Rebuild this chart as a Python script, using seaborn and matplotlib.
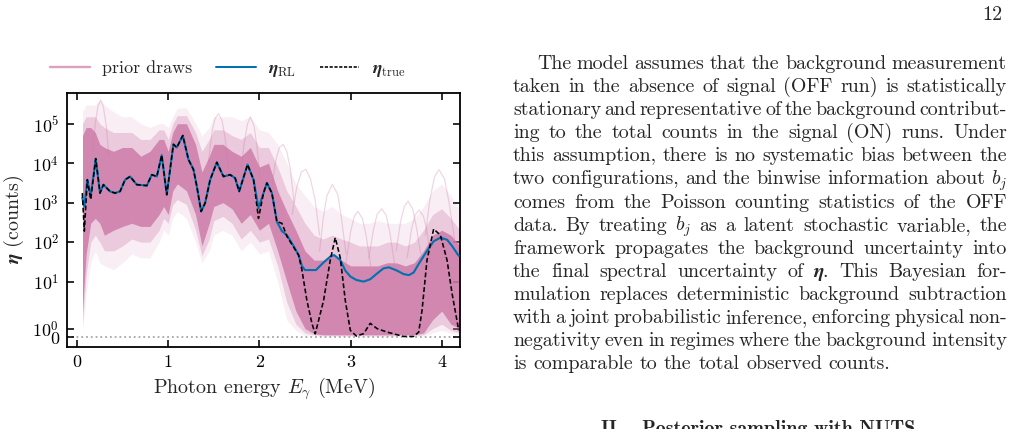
import pandas as pd
import matplotlib
matplotlib.use('Agg')
import matplotlib.pyplot as plt
from matplotlib.lines import Line2D
from matplotlib.ticker import NullLocator
import seaborn as sns

# ---- data (energy in MeV, counts) ----
band_E = [0.06, 0.10, 0.15, 0.20, 0.25, 0.30, 0.40, 0.50, 0.60, 0.70, 0.80, 0.90,
          0.95, 1.00, 1.05, 1.10, 1.20, 1.30, 1.37, 1.45, 1.50, 1.60, 1.70, 1.80, 1.90,
          2.00, 2.10, 2.20, 2.30, 2.40, 2.50, 2.60, 2.70, 2.80, 2.90,
          3.00, 3.10, 3.20, 3.30, 3.40, 3.50, 3.60, 3.70, 3.80, 3.90, 4.00, 4.10, 4.20]
# dense core of the prior draws
core_lo = [3, 50, 300, 400, 300, 150, 200, 250, 300, 250, 250, 500,
           800, 500, 2000, 3000, 2000, 500, 80, 300, 800, 1000, 700, 300, 500,
           200, 300, 60, 10, 3, 1, 0.4, 0.3, 0.3, 0.3,
           0.3, 0.3, 0.3, 0.3, 0.3, 0.3, 0.3, 0.3, 0.5, 2, 3, 1.5, 1]
core_hi = [5e4, 8e4, 8e4, 6e4, 3e4, 2.5e4, 2e4, 2.5e4, 2.5e4, 1.5e4, 2e4, 4e4,
           4e4, 2e4, 6e4, 1e5, 1e5, 3e4, 6e3, 1.5e4, 3e4, 3e4, 2e4, 1.5e4, 2.5e4,
           8e3, 1e4, 2e3, 600, 200, 60, 35, 35, 50, 35,
           25, 25, 25, 25, 30, 30, 25, 30, 60, 150, 200, 150, 80]
# medium density
mid_lo = [1.5, 15, 100, 150, 100, 60, 60, 80, 120, 100, 100, 200,
          400, 300, 900, 1200, 900, 200, 45, 120, 350, 450, 300, 120, 200,
          100, 120, 25, 4, 1.5, 0.5, 0.3, 0.2, 0.2, 0.2,
          0.2, 0.2, 0.2, 0.2, 0.2, 0.2, 0.2, 0.2, 0.3, 1, 1.5, 0.8, 0.5]
mid_hi = [1e5, 1.5e5, 1.5e5, 1.5e5, 1e5, 8e4, 6e4, 6e4, 6e4, 4e4, 4e4, 7e4,
          7e4, 4e4, 1e5, 1.6e5, 1.6e5, 6e4, 2e4, 4e4, 7e4, 7e4, 5e4, 4e4, 6e4,
          2.5e4, 2.5e4, 8e3, 2e3, 800, 300, 150, 120, 150, 120,
          100, 80, 80, 80, 100, 100, 80, 100, 200, 500, 700, 400, 200]
# faint outer haze
faint_lo = [0.8, 5, 30, 60, 30, 25, 20, 30, 50, 40, 40, 100,
            200, 150, 400, 600, 400, 100, 30, 60, 150, 200, 150, 60, 100,
            50, 60, 10, 2, 0.8, 0.2, 0.15, 0.1, 0.1, 0.1,
            0.1, 0.1, 0.1, 0.1, 0.1, 0.1, 0.1, 0.1, 0.15, 0.5, 0.8, 0.5, 0.3]
faint_hi = [2e5, 3e5, 3e5, 3e5, 4e5, 3e5, 2e5, 1.5e5, 1.5e5, 1e5, 8e4, 1e5,
            1e5, 8e4, 1.5e5, 2.5e5, 2.5e5, 1e5, 5e4, 8e4, 1.5e5, 1.5e5, 1.5e5, 1.2e5, 1.5e5,
            7e4, 6e4, 3e4, 1e4, 3e3, 1.5e3, 800, 600, 800, 500,
            400, 300, 300, 350, 300, 300, 300, 400, 800, 2e3, 3e3, 1.5e3, 600]

# a few individual outlying prior draws
draw_id = ([1] * 7 + [2] * 7 + [3] * 7 + [4] * 7 + [5] * 7 + [6] * 7
           + [7] * 7 + [8] * 7 + [9] * 7 + [10] * 7 + [11] * 7)
draw_E = [2.66, 2.70, 2.74, 2.80, 2.86, 2.90, 2.95,
          3.82, 3.87, 3.92, 3.97, 4.03, 4.08, 4.14,
          3.20, 3.25, 3.29, 3.34, 3.39, 3.43, 3.48,
          2.36, 2.41, 2.46, 2.51, 2.56, 2.61, 2.66,
          3.50, 3.55, 3.59, 3.63, 3.68, 3.72, 3.77,
          2.95, 3.00, 3.04, 3.08, 3.13, 3.17, 3.22,
          0.17, 0.20, 0.23, 0.26, 0.29, 0.32, 0.35,
          1.44, 1.48, 1.51, 1.55, 1.59, 1.62, 1.66,
          2.14, 2.18, 2.22, 2.26, 2.30, 2.34, 2.38,
          3.62, 3.67, 3.71, 3.75, 3.80, 3.84, 3.88,
          1.80, 1.84, 1.87, 1.90, 1.94, 1.97, 2.01]
draw_val = [60, 400, 1500, 2900, 1600, 400, 50,
            150, 1200, 4500, 6900, 4000, 1000, 120,
            40, 200, 500, 700, 480, 180, 30,
            500, 2500, 6000, 7000, 4000, 1200, 150,
            60, 350, 800, 1100, 700, 250, 50,
            30, 180, 450, 600, 400, 150, 25,
            2e4, 1e5, 2.8e5, 4e5, 2.6e5, 9e4, 1.5e4,
            1e4, 6e4, 1.3e5, 1.8e5, 1.2e5, 5e4, 8e3,
            3e3, 1.2e4, 2.5e4, 3e4, 2e4, 7e3, 1e3,
            40, 220, 500, 650, 450, 180, 30,
            8e3, 4e4, 1e5, 1.5e5, 9e4, 3e4, 4e3]

true_E = [0.058, 0.080, 0.113, 0.150, 0.205, 0.252, 0.289, 0.362, 0.417, 0.472,
          0.527, 0.582, 0.655, 0.765, 0.820, 0.875, 0.929, 0.984, 1.057, 1.094,
          1.160, 1.222, 1.277, 1.314, 1.361, 1.405, 1.460, 1.533, 1.606, 1.679,
          1.734, 1.778, 1.870, 1.936, 1.990, 2.045, 2.082, 2.137, 2.192, 2.247,
          2.302, 2.375, 2.430, 2.466, 2.521, 2.576, 2.612, 2.704, 2.777, 2.832,
          2.887, 2.942, 2.997, 3.063, 3.143, 3.216, 3.290, 3.400, 3.509, 3.582,
          3.692, 3.747, 3.784, 3.838, 3.911, 3.985, 4.058, 4.113, 4.186]
true_val = [1750, 190, 3800, 1200, 13000, 1750, 2860, 1930, 1750, 1930,
            3800, 4600, 2860, 2700, 5100, 4600, 16000, 1590, 30000, 25000,
            50000, 12400, 6900, 2580, 600, 980, 3800, 10500, 4600, 5100,
            4200, 1930, 9200, 3800, 400, 1750, 3150, 1750, 330, 300,
            140, 75, 47, 20, 4.2, 1.6, 0.4, 4.2, 35, 130,
            40, 4.2, 0.8, 0.15, 0.42, 1.6, 1.0, 0.6, 0.3, 0.1,
            0.1, 0.6, 3.1, 35, 215, 150, 35, 5, 0.8]

rl_E = [0.058, 0.080, 0.113, 0.150, 0.205, 0.252, 0.289, 0.362, 0.417, 0.472,
        0.527, 0.582, 0.655, 0.765, 0.820, 0.875, 0.929, 0.984, 1.057, 1.094,
        1.160, 1.222, 1.277, 1.314, 1.361, 1.405, 1.460, 1.533, 1.606, 1.679,
        1.734, 1.778, 1.870, 1.936, 1.990, 2.045, 2.082, 2.137, 2.192, 2.247,
        2.302, 2.375, 2.430, 2.466, 2.500, 2.550, 2.620, 2.700, 2.777, 2.820,
        2.887, 2.942, 2.997, 3.063, 3.143, 3.216, 3.290, 3.360, 3.420, 3.509,
        3.582, 3.640, 3.692, 3.747, 3.838, 3.911, 3.985, 4.058, 4.113, 4.186]
rl_val = [1310, 800, 3800, 1450, 13000, 1750, 2860, 1930, 1750, 1930,
          3800, 4600, 2860, 2700, 5100, 4600, 16000, 1590, 30000, 25000,
          50000, 12400, 6900, 2580, 600, 980, 3800, 10500, 4600, 5100,
          4200, 1930, 9200, 3800, 730, 1750, 3150, 1750, 330, 190,
          150, 80, 47, 25, 19.6, 19.6, 19.6, 30, 43, 47,
          35, 19, 13.5, 11, 10, 11.5, 16, 21.6, 23, 19,
          15.5, 14.6, 17, 28, 60, 105, 130, 115, 80, 45]

y_ticks = [0, 1, 10, 100, 1e3, 1e4, 1e5]
y_ticklabels = ['0', '$10^0$', '$10^1$', '$10^2$', '$10^3$', '$10^4$', '$10^5$']
x_ticks = [0, 1, 2, 3, 4]

body_lines = [
    "The model assumes that the background measurement",
    "taken in the absence of signal (OFF run) is statistically",
    "stationary and representative of the background contribut-",
    "ing to the total counts in the signal (ON) runs.  Under",
    "this assumption, there is no systematic bias between the",
    "two configurations, and the binwise information about $b_j$",
    "comes from the Poisson counting statistics of the OFF",
    "data.  By treating $b_j$ as a latent stochastic variable, the",
    "framework propagates the background uncertainty into",
    r"the final spectral uncertainty of $\boldsymbol{\eta}$.  This Bayesian for-",
    "mulation replaces deterministic background subtraction",
    "with a joint probabilistic inference, enforcing physical non-",
    "negativity even in regimes where the background intensity",
    "is comparable to the total observed counts.",
]

PINK = '#CC79A7'
BLUE = '#0072B2'
W, H, DPI = 1013, 429, 144

sns.set_theme(style='ticks')
plt.rcParams['font.family'] = 'serif'
plt.rcParams['font.serif'] = ['cmr10']
plt.rcParams['mathtext.fontset'] = 'cm'
plt.rcParams['axes.unicode_minus'] = False
plt.rcParams['axes.formatter.use_mathtext'] = True

fig = plt.figure(figsize=(W / DPI, H / DPI), dpi=DPI)
ax = fig.add_axes([67 / W, 1 - 347 / H, 393 / W, 254 / H])
ax.set_yscale('symlog', linthresh=5, linscale=1)

ax.fill_between(band_E, faint_lo, faint_hi, color=PINK, alpha=0.12, lw=0, zorder=1)
ax.fill_between(band_E, mid_lo, mid_hi, color=PINK, alpha=0.3, lw=0, zorder=1)
ax.fill_between(band_E, core_lo, core_hi, color=PINK, alpha=0.82, lw=0, zorder=1)

draws = pd.DataFrame({'draw': draw_id, 'E': draw_E, 'counts': draw_val})
sns.lineplot(data=draws, x='E', y='counts', units='draw', estimator=None,
             color=PINK, alpha=0.3, lw=0.6, ax=ax, legend=False, zorder=2)

sns.lineplot(x=rl_E, y=rl_val, estimator=None, color=BLUE, lw=1.05, ax=ax, zorder=3)
sns.lineplot(x=true_E, y=true_val, estimator=None, color='black', lw=0.8,
             linestyle=(0, (3, 1.6)), ax=ax, zorder=4)

ax.axhline(0, color='0.65', ls=':', lw=0.9, zorder=0.5)

ax.set_xlim(-0.11, 4.2)
ax.set_ylim(-1.1, 6e5)
ax.set_xticks(x_ticks)
ax.set_xticklabels([str(t) for t in x_ticks])
ax.set_yticks(y_ticks)
ax.set_yticklabels(y_ticklabels)
ax.xaxis.set_minor_locator(NullLocator())
ax.yaxis.set_minor_locator(NullLocator())
ax.tick_params(which='both', direction='in', top=True, right=True,
               length=3.5, width=0.8, labelsize=9, pad=4, colors='black')
for s in ax.spines.values():
    s.set_color('black')
    s.set_linewidth(0.9)

ax.set_xlabel(r'Photon energy $E_\gamma$ (MeV)', fontsize=10, labelpad=3)
ax.set_ylabel(r'$\boldsymbol{\eta}$ (counts)', fontsize=10, labelpad=3)

handles = [Line2D([], [], color=PINK, lw=1.2, alpha=0.7),
           Line2D([], [], color=BLUE, lw=1.0),
           Line2D([], [], color='black', lw=0.8, linestyle=(0, (2, 1)))]
labels = ['prior draws', r'$\boldsymbol{\eta}_{\mathrm{RL}}$',
          r'$\boldsymbol{\eta}_{\mathrm{true}}$']
fig.legend(handles, labels, loc='center', bbox_to_anchor=(228 / W, 1 - 70 / H),
           ncol=3, frameon=False, fontsize=9, handlelength=2.2,
           handletextpad=0.7, columnspacing=1.3)

# ---- right-hand column of running text, justified by hand ----
renderer = fig.canvas.get_renderer()
x_left, x_right, indent = 513, 1007, 24
for i, line in enumerate(body_lines):
    words = [w for w in line.split(' ') if w]
    y = 1 - (69 + 23.1 * i) / H
    items = [fig.text(0, y, w, fontsize=10, ha='left', va='baseline') for w in words]
    widths = [t.get_window_extent(renderer).width for t in items]
    x0 = x_left + (indent if i == 0 else 0)
    if i < len(body_lines) - 1:
        gap = (x_right - x0 - sum(widths)) / (len(words) - 1)
    else:
        gap = 6.7
    x = x0
    for t, wd in zip(items, widths):
        t.set_x(x / W)
        x += wd + gap

fig.text(1002 / W, 1 - 20 / H, '12', ha='right', va='baseline', fontsize=10)
fig.text(758 / W, 1 - 434 / H, 'II.   Posterior sampling with NUTS', ha='center',
         va='baseline', fontsize=10, family='cmb10')

fig.savefig('out.png', dpi=DPI)
